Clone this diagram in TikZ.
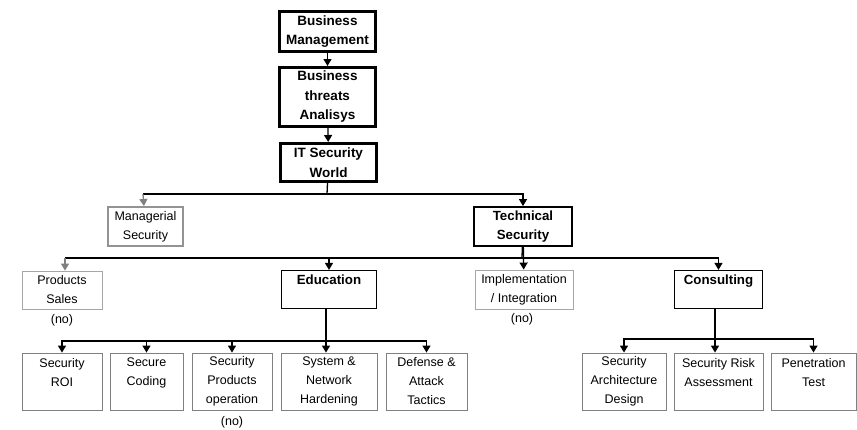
\documentclass[tikz,border=0pt]{standalone}
\usepackage{fontspec}
\setmainfont{Liberation Sans}
\usetikzlibrary{arrows.meta}
\begin{document}
\begin{tikzpicture}[x=1pt,y=-1pt,
  every node/.style={font=\fontsize{12.5}{19}\selectfont, align=center, inner sep=0pt},
  topbox/.style={draw, line width=3pt, minimum width=96pt, font=\fontsize{13.5}{19.5}\selectfont\bfseries},
  techbox/.style={draw, line width=1.8pt, font=\fontsize{13.3}{19}\selectfont\bfseries},
  groupbox/.style={draw, line width=1.2pt, font=\fontsize{13.3}{19}\selectfont\bfseries},
  greybox/.style={draw=gray!70, line width=0.9pt},
  leafbox/.style={draw=gray, line width=0.9pt, minimum height=57pt},
  link/.style={line width=1.3pt, -{Triangle[width=8pt,length=7pt]}},
  bar/.style={line width=1.3pt}
]
\useasboundingbox (0,0) rectangle (857,429);

% top chain
\node[topbox, minimum height=40pt] (bm) at (327.5,31.5) {Business\\Management};
\node[topbox, minimum height=59pt] (bta) at (327.5,97) {Business\\threats\\Analisys};
\node[topbox, minimum height=38pt] (itw) at (328.5,162.5) {IT Security\\World};
\path[draw,link] (bm) -- (bta);
\path[draw,link] (bta) -- (itw);

% second level
\node[draw=gray!85, line width=2pt, minimum width=75pt, minimum height=39pt] (mgr) at (145.5,226.5) {Managerial\\Security};
\node[techbox, minimum width=98pt, minimum height=39pt] (tech) at (523,226.5) {Technical\\Security};
\coordinate (busA) at (327,194);
\coordinate (mgrTop) at (143,194);
\path[draw,bar] (itw) -- (busA);
\path[draw,bar] (busA) -- (mgrTop);
\path[draw,link,draw=gray,-{Triangle[width=8pt,length=7pt,fill=gray]}] (mgrTop) -- (mgr);
\path[draw,link] (busA) -| (tech);

% third level
\node[greybox, minimum width=80pt, minimum height=38pt] (ps) at (62,290) {Products\\Sales};
\node[groupbox, minimum width=95pt, minimum height=38pt] (edu) at (329,289.5) {Education\\~};
\node[greybox, minimum width=98pt, minimum height=39pt] (impl) at (524,289.5) {Implementation\\/ Integration};
\node[groupbox, minimum width=88pt, minimum height=38pt] (cons) at (718.5,289.5) {Consulting\\~};
\node (psNo) at (62,320) {(no)};
\node (implNo) at (522,319) {(no)};
\coordinate (busB) at (522,258);
\coordinate (psTop) at (65,258);
\path[draw,bar] (tech) -- (busB);
\path[draw,bar] (busB) -- (psTop);
\path[draw,link,draw=gray,-{Triangle[width=8pt,length=7pt,fill=gray]}] (psTop) -- (ps.north -| psTop);
\path[draw,link] (busB) -| (edu);
\path[draw,link] (tech) -- (impl);
\path[draw,link] (busB) -| (cons);

% education leaves
\node[leafbox, minimum width=80pt] (roi) at (62,381.5) {Security\\ROI\\~};
\node[leafbox, minimum width=73pt] (code) at (146.5,381.5) {Secure\\Coding\\~};
\node[leafbox, minimum width=80pt] (spo) at (232,381.5) {Security\\Products\\operation};
\node[leafbox, minimum width=96pt] (snh) at (329,381.5) {System \&\\Network\\Hardening};
\node[leafbox, minimum width=81pt] (dat) at (426.5,381.5) {Defense \&\\Attack\\Tactics};
\node (spoNo) at (232,422) {(no)};
\coordinate (busC) at (326,341);
\path[draw,bar] (edu.south -| busC) -- (busC);
\path[draw,link] (busC) -| (roi);
\path[draw,link] (busC) -| (code);
\path[draw,link] (busC) -| (spo);
\path[draw,link] (busC) -- (snh.north -| busC);
\path[draw,link] (busC) -| (dat);

% consulting leaves
\node[leafbox, minimum width=84pt] (sad) at (624,381.5) {Security\\Architecture\\Design};
\node[leafbox, minimum width=89pt] (sra) at (718.5,381.5) {Security Risk\\Assessment\\~};
\node[leafbox, minimum width=85pt] (pen) at (813.5,381.5) {Penetration\\Test\\~};
\coordinate (busD) at (715,339);
\path[draw,bar] (cons.south -| busD) -- (busD);
\path[draw,link] (busD) -| (sad);
\path[draw,link] (busD) -- (sra.north -| busD);
\path[draw,link] (busD) -| (pen);
\end{tikzpicture}
\end{document}
